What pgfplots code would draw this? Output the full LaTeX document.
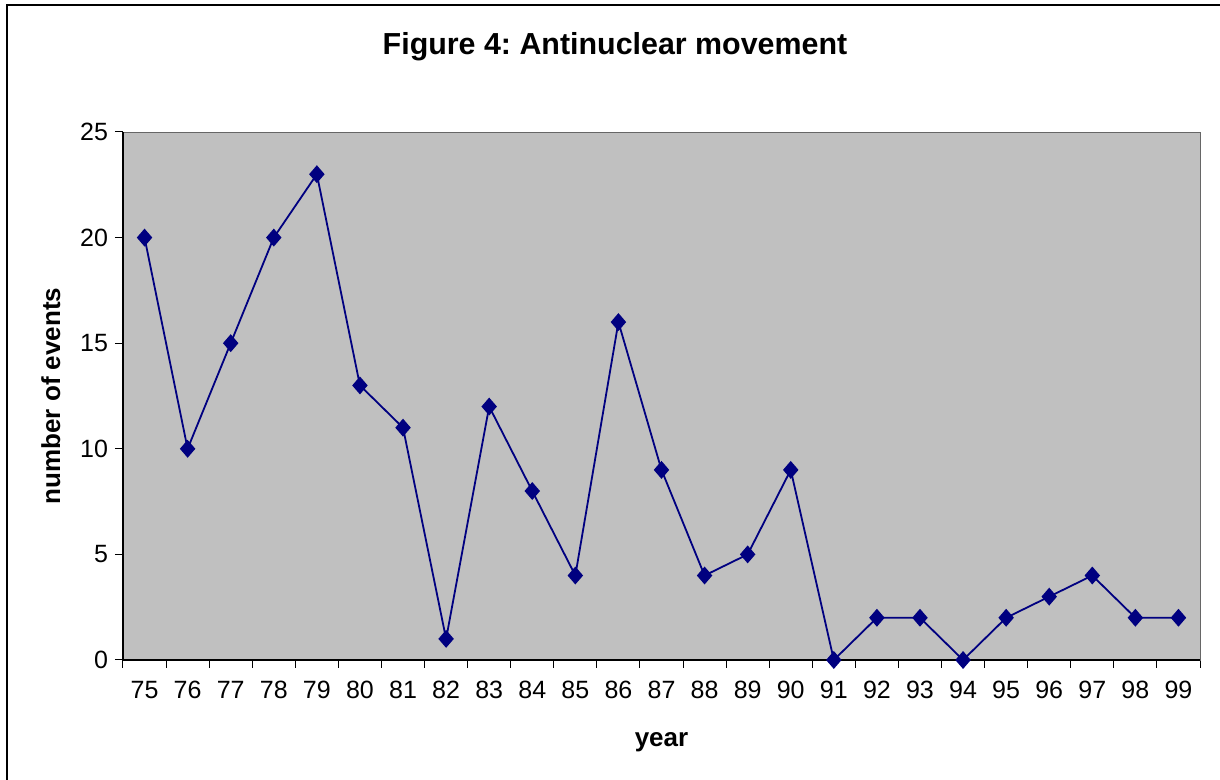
\documentclass[border=0pt]{standalone}
\usepackage{pgfplots}
\pgfplotsset{compat=1.18}
\usepackage{fontspec}
\setmainfont{Liberation Sans}
\frenchspacing
\definecolor{plotbg}{RGB}{192,192,192}
\definecolor{navyline}{RGB}{0,0,128}
\begin{document}
\begin{tikzpicture}[x=1pt,y=1pt]
\useasboundingbox (0,0) rectangle (610,390);
\draw[black, line width=0.6pt] (3.5,-10) -- (3.5,387.5) -- (620,387.5);
\node[font=\bfseries\fontsize{15.2}{17}\selectfont] at (307.5,366.5) {Figure 4: Antinuclear movement};
\begin{axis}[
  at={(61.5pt,60pt)}, anchor=south west,
  scale only axis, width=538.5pt, height=264pt,
  xmin=-0.5, xmax=24.5, ymin=0, ymax=25,
  axis background/.style={fill=plotbg},
  axis line style={draw=gray!80!black},
  xtick={0,...,24},
  xticklabels={75,76,77,78,79,80,81,82,83,84,85,86,87,88,89,90,91,92,93,94,95,96,97,98,99},
  major x tick style={draw=none},
  minor xtick={-0.5,0.5,...,24.5},
  minor tick length=4pt,
  ytick={0,5,...,25},
  major tick length=4pt,
  tick align=outside,
  tick style={black, line width=0.5pt},
  xtick pos=bottom, ytick pos=left,
  tick label style={font=\fontsize{12.5}{14}\selectfont},
  /pgf/number format/assume math mode=true,
  xticklabel style={yshift=-3pt},
  xlabel={\bfseries year},
  ylabel={\bfseries number of events},
  label style={font=\bfseries\fontsize{13}{15}\selectfont},
  xlabel style={yshift=-10pt},
  ylabel style={yshift=3pt},
  clip=false,
]
\draw[black, line width=0.6pt] (axis cs:-0.5,25) -- (axis cs:-0.5,0) -- (axis cs:24.5,0);
\addplot[navyline, line width=0.9pt, mark=diamond*, mark size=3.8pt, mark options={fill=navyline, draw=navyline, xscale=1.15}] coordinates {
(0,20) (1,10) (2,15) (3,20) (4,23) (5,13) (6,11) (7,1) (8,12) (9,8)
(10,4) (11,16) (12,9) (13,4) (14,5) (15,9) (16,0) (17,2) (18,2) (19,0)
(20,2) (21,3) (22,4) (23,2) (24,2)
};
\end{axis}
\end{tikzpicture}
\end{document}
